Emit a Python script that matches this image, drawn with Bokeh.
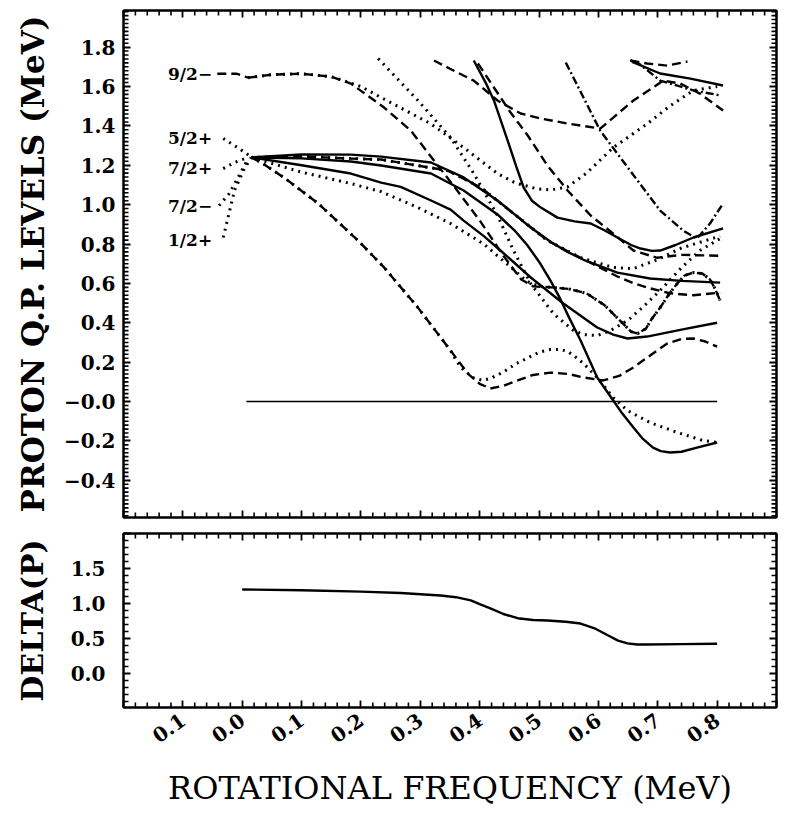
import math
from bokeh.plotting import figure
from bokeh.layouts import column
from bokeh.models import Range1d, SingleIntervalTicker, LinearAxis, CustomJSTickFormatter
from bokeh.embed import file_html
from bokeh.resources import INLINE
from bokeh.core.properties import value

FONT = "DejaVu Serif"

# ---------------- quasiparticle levels (MeV) vs rotational frequency (MeV) ----------------
# h9/2 pair (two signatures)
h92_a_x = [0.010, 0.05, 0.10, 0.15, 0.183, 0.239, 0.284, 0.323, 0.36, 0.40, 0.44, 0.47, 0.49, 0.52, 0.55, 0.58, 0.61, 0.64, 0.655, 0.666, 0.68, 0.69, 0.704, 0.72, 0.733, 0.745, 0.76, 0.775, 0.788, 0.797, 0.805]
h92_a_y = [1.645, 1.660, 1.665, 1.650, 1.615, 1.493, 1.376, 1.224, 1.08, 0.92, 0.74, 0.62, 0.585, 0.58, 0.572, 0.55, 0.49, 0.40, 0.355, 0.345, 0.37, 0.42, 0.477, 0.55, 0.60, 0.64, 0.655, 0.65, 0.62, 0.57, 0.513]
h92_b_x = [0.010, 0.05, 0.10, 0.15, 0.20, 0.234, 0.318, 0.373, 0.43, 0.46, 0.497, 0.52, 0.548, 0.58, 0.625, 0.682, 0.72, 0.76, 0.80]
h92_b_y = [1.645, 1.660, 1.665, 1.650, 1.600, 1.544, 1.41, 1.29, 1.158, 1.11, 1.08, 1.075, 1.09, 1.16, 1.29, 1.41, 1.50, 1.58, 1.60]

# steep down-sloping orbital from the common band head
low_a_x = [0.015, 0.032, 0.07, 0.128, 0.195, 0.239, 0.296, 0.351, 0.38, 0.40, 0.418, 0.44, 0.464, 0.49, 0.519, 0.55, 0.575, 0.608, 0.635, 0.659, 0.69, 0.716, 0.74, 0.76, 0.78, 0.80]
low_a_y = [1.24, 1.214, 1.138, 1.006, 0.818, 0.681, 0.477, 0.259, 0.142, 0.09, 0.066, 0.08, 0.107, 0.135, 0.147, 0.14, 0.122, 0.107, 0.13, 0.173, 0.24, 0.295, 0.318, 0.32, 0.305, 0.279]
low_b_x = [0.015, 0.032, 0.07, 0.128, 0.195, 0.239, 0.296, 0.351, 0.362, 0.373, 0.39, 0.405, 0.42, 0.44, 0.46, 0.48, 0.50, 0.519, 0.535, 0.548, 0.56, 0.575, 0.598, 0.612, 0.625, 0.649, 0.687, 0.733, 0.776, 0.80]
low_b_y = [1.24, 1.214, 1.138, 1.006, 0.818, 0.681, 0.477, 0.259, 0.20, 0.16, 0.12, 0.107, 0.12, 0.15, 0.19, 0.22, 0.25, 0.264, 0.265, 0.255, 0.23, 0.193, 0.122, 0.07, 0.02, -0.046, -0.107, -0.157, -0.198, -0.208]

# bundle of levels leaving the common band head
band1_x = [0.015, 0.10, 0.183, 0.234, 0.318, 0.373, 0.43, 0.486, 0.52, 0.548, 0.575, 0.632, 0.687, 0.74, 0.805]
band1_y = [1.24, 1.255, 1.254, 1.244, 1.214, 1.138, 1.021, 0.884, 0.81, 0.76, 0.72, 0.655, 0.625, 0.613, 0.604]
band2_x = [0.015, 0.10, 0.183, 0.234, 0.346, 0.402, 0.457, 0.514, 0.55, 0.59, 0.632, 0.66, 0.687, 0.72, 0.76, 0.805]
band2_y = [1.24, 1.245, 1.234, 1.229, 1.173, 1.087, 0.955, 0.818, 0.76, 0.70, 0.635, 0.60, 0.575, 0.55, 0.54, 0.553]
band2b_x = [0.015, 0.10, 0.183, 0.234, 0.346, 0.402, 0.457, 0.514, 0.57, 0.625, 0.659, 0.699, 0.74, 0.805]
band2b_y = [1.24, 1.245, 1.234, 1.229, 1.173, 1.087, 0.955, 0.818, 0.731, 0.681, 0.675, 0.72, 0.78, 0.84]
band3_x = [0.015, 0.10, 0.183, 0.234, 0.318, 0.373, 0.43, 0.46, 0.48, 0.50, 0.52, 0.536, 0.55, 0.57, 0.598, 0.625, 0.64, 0.659, 0.675, 0.692, 0.705, 0.721, 0.74, 0.766, 0.80]
band3_y = [1.24, 1.235, 1.219, 1.199, 1.158, 1.072, 0.95, 0.865, 0.795, 0.71, 0.61, 0.52, 0.43, 0.31, 0.122, 0.005, -0.06, -0.132, -0.19, -0.234, -0.252, -0.259, -0.255, -0.234, -0.208]
band4_x = [0.015, 0.10, 0.183, 0.234, 0.267, 0.318, 0.351, 0.373, 0.407, 0.435, 0.486, 0.541, 0.598, 0.625, 0.649, 0.682, 0.74, 0.80]
band4_y = [1.24, 1.20, 1.158, 1.112, 1.09, 1.021, 0.975, 0.919, 0.84, 0.767, 0.63, 0.498, 0.376, 0.34, 0.32, 0.33, 0.365, 0.40]
band5_x = [0.015, 0.10, 0.183, 0.234, 0.296, 0.351, 0.407, 0.43, 0.457, 0.48, 0.50, 0.52, 0.55, 0.58, 0.61, 0.64, 0.655, 0.666, 0.68, 0.69, 0.704, 0.72, 0.733, 0.745, 0.76, 0.775, 0.788, 0.797, 0.805]
band5_y = [1.24, 1.165, 1.107, 1.066, 0.985, 0.904, 0.80, 0.74, 0.67, 0.61, 0.585, 0.58, 0.572, 0.55, 0.49, 0.40, 0.355, 0.345, 0.37, 0.42, 0.477, 0.55, 0.60, 0.64, 0.655, 0.65, 0.62, 0.57, 0.513]

# levels entering from above
hi1_x = [0.229, 0.296, 0.351, 0.39, 0.43, 0.457, 0.486, 0.524, 0.558, 0.575, 0.598, 0.62, 0.649, 0.675, 0.704, 0.74, 0.771, 0.805]
hi1_y = [1.742, 1.529, 1.341, 1.158, 0.945, 0.767, 0.599, 0.447, 0.361, 0.34, 0.335, 0.36, 0.411, 0.48, 0.564, 0.68, 0.767, 0.828]
hi2_x = [0.323, 0.35, 0.39, 0.43, 0.469, 0.503, 0.548, 0.603, 0.625, 0.659, 0.692, 0.709, 0.738, 0.771, 0.81]
hi2_y = [1.732, 1.69, 1.63, 1.529, 1.463, 1.437, 1.412, 1.386, 1.442, 1.529, 1.595, 1.63, 1.615, 1.564, 1.478]
hi3_x = [0.39, 0.41, 0.424, 0.447, 0.462, 0.474, 0.488, 0.503, 0.531, 0.56, 0.587, 0.61, 0.632, 0.655, 0.671, 0.69, 0.704, 0.73, 0.76, 0.81]
hi3_y = [1.732, 1.62, 1.529, 1.326, 1.19, 1.087, 1.02, 0.985, 0.934, 0.915, 0.904, 0.87, 0.833, 0.795, 0.777, 0.765, 0.767, 0.795, 0.833, 0.879]
hi4_x = [0.397, 0.424, 0.452, 0.481, 0.514, 0.548, 0.587, 0.625, 0.659, 0.699, 0.74, 0.805]
hi4_y = [1.717, 1.595, 1.468, 1.351, 1.199, 1.072, 0.945, 0.853, 0.767, 0.73, 0.745, 0.74]
hi5_x = [0.545, 0.603, 0.632, 0.666, 0.704, 0.743, 0.766, 0.788, 0.81]
hi5_y = [1.722, 1.376, 1.259, 1.122, 0.97, 0.868, 0.828, 0.904, 1.006]
hi6_x = [0.654, 0.659, 0.704, 0.755, 0.81]
hi6_y = [1.735, 1.722, 1.666, 1.64, 1.605]
hi7_x = [0.66, 0.671, 0.704, 0.76, 0.805]
hi7_y = [1.73, 1.71, 1.63, 1.58, 1.555]
hi8_x = [0.654, 0.682, 0.716, 0.75]
hi8_y = [1.732, 1.717, 1.706, 1.727]

# band-head labels and their leader lines
level_names = ["9/2\u2212", "5/2+", "7/2+", "7/2\u2212", "1/2+"]
level_label_y = [1.666, 1.336, 1.188, 0.995, 0.818]
lead92_x = [-0.042, -0.01, 0.010]
lead92_y = [1.665, 1.665, 1.645]
lead52_x = [-0.032, -0.013, 0.007, 0.015]
lead52_y = [1.336, 1.30, 1.26, 1.24]
lead72p_x = [-0.032, -0.013, 0.010]
lead72p_y = [1.183, 1.214, 1.24]
lead72m_x = [-0.039, -0.022, -0.007, 0.010]
lead72m_y = [0.995, 1.056, 1.138, 1.234]
lead12_x = [-0.032, -0.024, -0.013, 0.002, 0.015]
lead12_y = [0.833, 0.934, 1.072, 1.173, 1.239]

zero_x = [0.007, 0.80]
zero_y = [0.0, 0.0]

# proton pairing gap
delta_x = [0.0, 0.10, 0.20, 0.267, 0.334, 0.36, 0.385, 0.40, 0.418, 0.44, 0.464, 0.49, 0.514, 0.545, 0.57, 0.595, 0.615, 0.633, 0.649, 0.665, 0.682, 0.74, 0.80]
delta_y = [1.20, 1.19, 1.17, 1.15, 1.114, 1.09, 1.045, 0.99, 0.93, 0.85, 0.79, 0.765, 0.757, 0.74, 0.714, 0.64, 0.55, 0.47, 0.43, 0.415, 0.414, 0.42, 0.425]

DASH = "9 5"
DOT = "2 5"
DASHDOT = "8 3 2 3"

X_FMT = "if (tick < -0.15 || tick > 0.85) return ''; return Math.abs(tick).toFixed(1);"
QP_FMT = "return (tick <= 0.0001 ? '\\u2212' : '') + Math.abs(tick).toFixed(1);"
GAP_FMT = "if (tick > 1.9 || tick < -0.1) return ''; return Math.abs(tick).toFixed(1);"
BLANK = "return '';"

FIG_W = 786
BORDER_L, BORDER_R = 123, 10


def add_axis(p, side, interval, code):
    ax = LinearAxis(
        ticker=SingleIntervalTicker(interval=interval, num_minor_ticks=0),
        formatter=CustomJSTickFormatter(code=code),
        axis_line_color="black", axis_line_width=2,
        major_tick_in=7, major_tick_out=0,
        major_tick_line_color="black", major_tick_line_width=1.8,
        minor_tick_line_color=None,
        major_label_text_font=FONT, major_label_text_font_style="bold",
        major_label_text_font_size="20px", major_label_text_color="black",
        axis_label_text_font=FONT, axis_label_text_color="black",
    )
    p.add_layout(ax, side)
    return ax


def grid_steps(lo, hi, step, major_step):
    """Minor tick positions between lo and hi that do not fall on a major tick."""
    start = math.ceil(lo / step - 1e-9)
    out = []
    k = start
    while k * step <= hi + 1e-9:
        v = round(k * step, 4)
        r = v / major_step
        if abs(r - round(r)) > 1e-6 and lo < v < hi:
            out.append(v)
        k += 1
    return out


def minor_frame_ticks(p, xr, yr, frame_w, frame_h, x_step, x_major, y_step, y_major, px=5):
    """Short inward ticks along all four frame edges (length given in pixels)."""
    dx = px * (xr[1] - xr[0]) / frame_w
    dy = px * (yr[1] - yr[0]) / frame_h
    xs = grid_steps(xr[0], xr[1], x_step, x_major)
    ys = grid_steps(yr[0], yr[1], y_step, y_major)
    style = dict(line_color="black", line_width=1.6)
    p.segment(x0=xs, y0=[yr[0]] * len(xs), x1=xs, y1=[yr[0] + dy] * len(xs), **style)
    p.segment(x0=xs, y0=[yr[1]] * len(xs), x1=xs, y1=[yr[1] - dy] * len(xs), **style)
    p.segment(x0=[xr[0]] * len(ys), y0=ys, x1=[xr[0] + dx] * len(ys), y1=ys, **style)
    p.segment(x0=[xr[1]] * len(ys), y0=ys, x1=[xr[1] - dx] * len(ys), y1=ys, **style)


def base_fig(height, y_range, border_top, border_bottom):
    p = figure(width=FIG_W, height=height, x_range=Range1d(-0.2, 0.9), y_range=y_range,
               x_axis_location=None, y_axis_location=None,
               output_backend="svg", toolbar_location=None,
               min_border_left=BORDER_L, min_border_right=BORDER_R,
               min_border_top=border_top, min_border_bottom=border_bottom,
               background_fill_color="white", border_fill_color="white")
    p.outline_line_color = "black"
    p.outline_line_width = 2
    p.grid.visible = False
    return p


FRAME_W = FIG_W - BORDER_L - BORDER_R

# ---------------- top panel ----------------
QP_RANGE = (-0.589, 1.986)
X_RANGE = (-0.2, 0.9)
TOP_H, TOP_BT, TOP_BB = 525, 10, 8
p1 = base_fig(TOP_H, Range1d(*QP_RANGE), TOP_BT, TOP_BB)
ly = add_axis(p1, "left", 0.2, QP_FMT)
ly.axis_label = "PROTON Q.P. LEVELS (MeV)"
ly.axis_label_text_font_size = "31px"
ly.axis_label_text_font_style = "bold"
ly.axis_label_standoff = 10
ly.major_label_standoff = 8
add_axis(p1, "right", 0.2, BLANK)
add_axis(p1, "below", 0.1, BLANK)
add_axis(p1, "above", 0.1, BLANK)
minor_frame_ticks(p1, X_RANGE, QP_RANGE, FRAME_W, TOP_H - TOP_BT - TOP_BB, 0.02, 0.1, 0.02, 0.2)

solid = dict(line_color="black", line_width=2.4)
dashed = dict(line_color="black", line_width=2.4, line_dash=DASH)
dotted = dict(line_color="black", line_width=3, line_dash=DOT)
dashdot = dict(line_color="black", line_width=2.4, line_dash=DASHDOT)

p1.line(zero_x, zero_y, line_color="black", line_width=1.6)

p1.line(h92_a_x, h92_a_y, **dashed)
p1.line(h92_b_x, h92_b_y, **dotted)
p1.line(low_a_x, low_a_y, **dashed)
p1.line(low_b_x, low_b_y, **dotted)
p1.line(band1_x, band1_y, **solid)
p1.line(band2_x, band2_y, **dashed)
p1.line(band2b_x, band2b_y, **dotted)
p1.line(band3_x, band3_y, **solid)
p1.line(band4_x, band4_y, **solid)
p1.line(band5_x, band5_y, **dotted)
p1.line(hi1_x, hi1_y, **dotted)
p1.line(hi2_x, hi2_y, **dashed)
p1.line(hi3_x, hi3_y, **solid)
p1.line(hi4_x, hi4_y, **dashed)
p1.line(hi5_x, hi5_y, **dashdot)
p1.line(hi6_x, hi6_y, **solid)
p1.line(hi7_x, hi7_y, **dashdot)
p1.line(hi8_x, hi8_y, **dashed)

p1.line(lead92_x, lead92_y, **dashed)
for lx, lyy in [(lead52_x, lead52_y), (lead72p_x, lead72p_y), (lead72m_x, lead72m_y), (lead12_x, lead12_y)]:
    p1.line(lx, lyy, **dotted)

p1.text(x=[-0.125] * len(level_names), y=level_label_y, text=level_names,
        text_font=value(FONT), text_font_style="bold", text_font_size="17px",
        text_color="black", text_align="left", text_baseline="middle")

# ---------------- bottom panel ----------------
GAP_RANGE = (-0.486, 2.0)
BOT_H, BOT_BT, BOT_BB = 290, 8, 108
p2 = base_fig(BOT_H, Range1d(*GAP_RANGE), BOT_BT, BOT_BB)
gy = add_axis(p2, "left", 0.5, GAP_FMT)
gy.axis_label = "DELTA(P)"
gy.axis_label_text_font_size = "30px"
gy.axis_label_text_font_style = "bold"
gy.major_label_standoff = 18
gy.axis_label_standoff = 18
add_axis(p2, "right", 0.5, BLANK)
gx = add_axis(p2, "below", 0.1, X_FMT)
gx.major_label_orientation = 0.62
gx.major_label_standoff = 10
gx.axis_label = "ROTATIONAL FREQUENCY (MeV)"
gx.axis_label_text_font_size = "32px"
gx.axis_label_text_font_style = "normal"
gx.axis_label_standoff = 16
add_axis(p2, "above", 0.1, BLANK)
minor_frame_ticks(p2, X_RANGE, GAP_RANGE, FRAME_W, BOT_H - BOT_BT - BOT_BB, 0.02, 0.1, 0.1, 0.5)

p2.line(delta_x, delta_y, line_color="black", line_width=2.4)

layout = column(p1, p2, spacing=0)
open("out.html", "w").write(file_html(layout, INLINE))
